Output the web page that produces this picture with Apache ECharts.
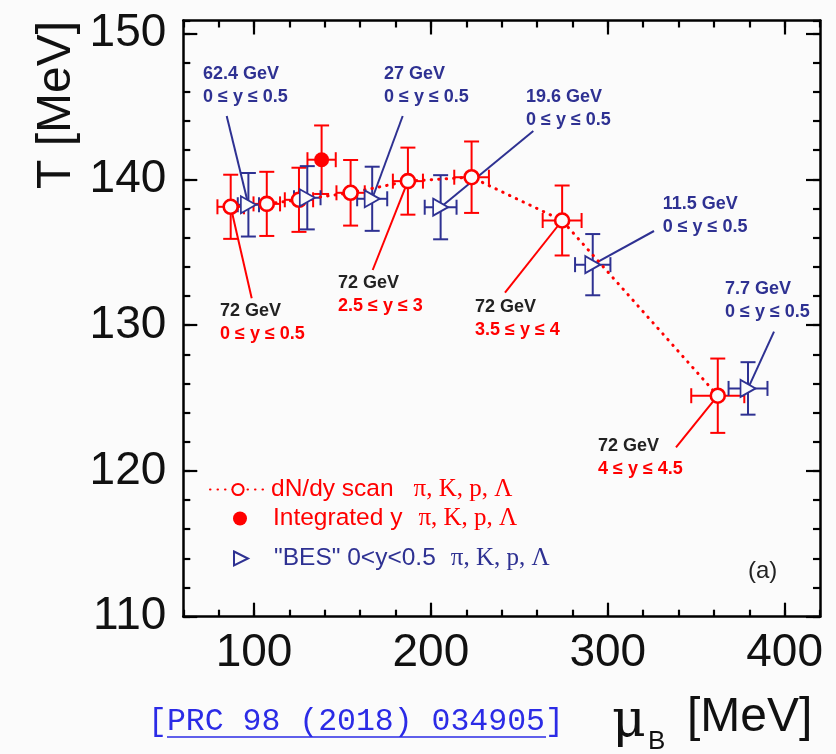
<!DOCTYPE html>
<html><head><meta charset="utf-8">
<script src="https://cdn.jsdelivr.net/npm/echarts@6/dist/echarts.min.js"></script>
<style>html,body{margin:0;padding:0;background:#fbfbfb}#c{width:836px;height:754px}</style>
</head><body><div id="c"></div>
<script>
// ---- data ----
// dN/dy rapidity scan, 72 GeV (open red circles, dotted line)
const scanMu   = [86.8, 107.2, 125.4, 154.6, 187.0, 223.0, 274.2, 362.2];
const scanT    = [138.12, 138.32, 138.6, 139.08, 139.88, 140.15, 137.18, 125.16];
const scanMuErr= [7.5, 7.5, 8.0, 8.0, 8.5, 9.8, 11.0, 15.0];
const scanTErr = [2.2, 2.2, 2.2, 2.25, 2.3, 2.45, 2.4, 2.55];
// integrated y (filled red circle)
const intMu = [138.2], intT = [141.35], intMuErr = [8.0], intTErr = [2.35];
// BES 0<y<0.5 (open blue triangles)
const besEnergy = ['62.4 GeV', '39 GeV', '27 GeV', '19.6 GeV', '11.5 GeV', '7.7 GeV'];
const besMu    = [96.8, 130.1, 166.8, 205.5, 291.5, 379.3];
const besT     = [138.26, 138.74, 138.67, 138.09, 134.15, 125.66];
const besMuErr = [6.0, 7.5, 8.5, 9.0, 10.0, 11.0];
const besTErr  = [2.18, 2.17, 2.2, 2.2, 2.1, 1.8];
// axis ticks
const xMajor = [100, 200, 300, 400];
const yMajor = [110, 120, 130, 140, 150];

const RED = '#ff0000', NAVY = '#2e3192', BG = '#fbfbfb', FONT = '"Liberation Sans", Arial, sans-serif';

function errSeries(mu, T, muE, TE, color) {
  return {
    type: 'custom', z: 2, silent: true, xAxisIndex: 0, yAxisIndex: 0,
    encode: {x: 0, y: 1},
    data: mu.map((m, i) => [m, T[i], muE[i], TE[i]]),
    renderItem(params, api) {
      const x = api.value(0), y = api.value(1), ex = api.value(2), ey = api.value(3);
      const c = api.coord([x, y]);
      const l = api.coord([x - ex, y])[0], r = api.coord([x + ex, y])[0];
      const t = api.coord([x, y + ey])[1], b = api.coord([x, y - ey])[1];
      const k = 7.5;
      const st = {stroke: color, lineWidth: 2};
      const L = (x1, y1, x2, y2) => ({type: 'line', shape: {x1, y1, x2, y2}, style: st});
      return {type: 'group', children: [
        L(l, c[1], r, c[1]), L(l, c[1] - k, l, c[1] + k), L(r, c[1] - k, r, c[1] + k),
        L(c[0], t, c[0], b), L(c[0] - k, t, c[0] + k, t), L(c[0] - k, b, c[0] + k, b)
      ]};
    }
  };
}

function xAx(pos, major, labels) {
  const base = {type: 'value', min: 60, max: 420, position: pos, splitLine: {show: false}};
  if (major) return Object.assign(base, {
    axisLine: {show: true, onZero: false, lineStyle: {color: '#000', width: 2.5}},
    axisTick: {show: true, inside: true, length: 14, lineStyle: {color: '#000', width: 2.2}, customValues: xMajor},
    axisLabel: {show: labels, customValues: xMajor, fontSize: 46, color: '#111', fontFamily: FONT, margin: 14}
  });
  return Object.assign(base, {interval: 20,
    axisLine: {show: false}, axisLabel: {show: false},
    axisTick: {show: true, inside: true, length: 7, lineStyle: {color: '#000', width: 2.2}}});
}
function yAx(pos, major, labels) {
  const base = {type: 'value', min: 110, max: 150.9, position: pos, splitLine: {show: false}};
  if (major) return Object.assign(base, {
    axisLine: {show: true, onZero: false, lineStyle: {color: '#000', width: 2.5}},
    axisTick: {show: true, inside: true, length: 14, lineStyle: {color: '#000', width: 2.2}, customValues: yMajor},
    axisLabel: {show: labels, customValues: yMajor, fontSize: 46, color: '#111', fontFamily: FONT, margin: 17}
  });
  return Object.assign(base, {interval: 2,
    axisLine: {show: false}, axisLabel: {show: false},
    axisTick: {show: true, inside: true, length: 7, lineStyle: {color: '#000', width: 2.2}}});
}

const chart = echarts.init(document.getElementById('c'));
const legText = (color, pad) => ({color, fontSize: 24.5, fontFamily: FONT,
  rich: {s: {color, fontSize: 25, fontFamily: '"Liberation Serif", serif', padding: [0, 0, 0, pad]}}});
const legBase = {orient: 'horizontal', selectedMode: false, padding: 0, itemWidth: 56, itemHeight: 14, itemGap: 0,
  formatter: n => n + '{s|π, K, p, Λ}'};

chart.setOption({
  backgroundColor: BG,
  animation: false,
  grid: {left: 183.3, top: 20.5, width: 636.7, height: 596.2, show: false},
  xAxis: [xAx('bottom', true, true), xAx('bottom', false), xAx('top', true, false), xAx('top', false)],
  yAxis: [yAx('left', true, true), yAx('left', false), yAx('right', true, false), yAx('right', false)],
  legend: [
    Object.assign({}, legBase, {data: ['dN/dy scan'], left: 209, top: 477, textStyle: legText(RED, 20)}),
    Object.assign({}, legBase, {data: ['Integrated y'], left: 233, top: 506, textStyle: legText(RED, 16)}),
    Object.assign({}, legBase, {data: ['"BES" 0<y<0.5'], left: 233, top: 546, textStyle: legText(NAVY, 15)})
  ],
  series: [
    errSeries(scanMu, scanT, scanMuErr, scanTErr, RED),
    errSeries(intMu, intT, intMuErr, intTErr, RED),
    errSeries(besMu, besT, besMuErr, besTErr, NAVY),
    {name: 'dN/dy scan', type: 'line', z: 4, xAxisIndex: 0, yAxisIndex: 0,
     data: scanMu.map((m, i) => [m, scanT[i]]),
     symbol: 'circle', symbolSize: 14, showAllSymbol: true,
     itemStyle: {color: BG, borderColor: RED, borderWidth: 2.6, opacity: 1},
     lineStyle: {color: RED, width: 3, type: [0.5, 7], cap: 'round'}},
    {name: 'Integrated y', type: 'scatter', z: 4, xAxisIndex: 0, yAxisIndex: 0,
     data: intMu.map((m, i) => [m, intT[i]]), symbol: 'circle', symbolSize: 15,
     itemStyle: {color: RED, opacity: 1}},
    {name: '"BES" 0<y<0.5', type: 'scatter', z: 5, xAxisIndex: 0, yAxisIndex: 0,
     data: besMu.map((m, i) => [m, besT[i]]), symbol: 'path://M0,0L10,5L0,10Z', symbolSize: [15, 17],
     itemStyle: {color: BG, borderColor: NAVY, borderWidth: 1.8, opacity: 1}}
  ]
});

// ---- annotations with leader lines to the data points ----
const BLK = '#222';
const notes = [
  {set: 'bes', i: 0, l1: '62.4 GeV', l2: '0 ≤ y ≤ 0.5', c1: NAVY, c2: NAVY, x: 203, y: 74.5, from: [226.7, 116], lc: NAVY},
  {set: 'bes', i: 2, l1: '27 GeV', l2: '0 ≤ y ≤ 0.5', c1: NAVY, c2: NAVY, x: 384, y: 74.5, from: [402.7, 116], lc: NAVY},
  {set: 'bes', i: 3, l1: '19.6 GeV', l2: '0 ≤ y ≤ 0.5', c1: NAVY, c2: NAVY, x: 526, y: 96.7, from: [533.3, 131], lc: NAVY},
  {set: 'bes', i: 4, l1: '11.5 GeV', l2: '0 ≤ y ≤ 0.5', c1: NAVY, c2: NAVY, x: 662.7, y: 204, from: [654, 231], lc: NAVY},
  {set: 'bes', i: 5, l1: '7.7 GeV', l2: '0 ≤ y ≤ 0.5', c1: NAVY, c2: NAVY, x: 725, y: 289.3, from: [774, 331.7], lc: NAVY},
  {set: 'scan', i: 0, l1: '72 GeV', l2: '0 ≤ y ≤ 0.5', c1: BLK, c2: RED, x: 220, y: 310.7, from: [251.7, 298.3], lc: RED},
  {set: 'scan', i: 4, l1: '72 GeV', l2: '2.5 ≤ y ≤ 3', c1: BLK, c2: RED, x: 338, y: 282.7, from: [372.7, 270], lc: RED},
  {set: 'scan', i: 6, l1: '72 GeV', l2: '3.5 ≤ y ≤ 4', c1: BLK, c2: RED, x: 475, y: 306.7, from: [505, 292.7], lc: RED},
  {set: 'scan', i: 7, l1: '72 GeV', l2: '4 ≤ y ≤ 4.5', c1: BLK, c2: RED, x: 598, y: 446, from: [676, 447.3], lc: RED}
];
const g = [];
notes.forEach(n => {
  const mu = n.set === 'bes' ? besMu[n.i] : scanMu[n.i];
  const T = n.set === 'bes' ? besT[n.i] : scanT[n.i];
  const p = chart.convertToPixel({xAxisIndex: 0, yAxisIndex: 0}, [mu, T]);
  g.push({type: 'line', z: 3, shape: {x1: n.from[0], y1: n.from[1], x2: p[0], y2: p[1]}, style: {stroke: n.lc, lineWidth: 2}});
  g.push({type: 'text', z: 6, style: {text: n.l1, x: n.x, y: n.y, fill: n.c1, font: 'bold 18px ' + FONT, verticalAlign: 'middle'}});
  g.push({type: 'text', z: 6, style: {text: n.l2, x: n.x, y: n.y + 23, fill: n.c2, font: 'bold 18px ' + FONT, verticalAlign: 'middle'}});
});
// axis titles, panel tag, citation
g.push({type: 'text', x: 57, y: 105, rotation: Math.PI / 2, style: {text: 'T [MeV]', x: 0, y: 0, align: 'center', verticalAlign: 'middle', fill: '#111', font: '48px ' + FONT}});
g.push({type: 'text', style: {text: 'μ', x: 612, y: 722, verticalAlign: 'middle', fill: '#111', font: '52px "DejaVu Serif", serif'}});
g.push({type: 'text', style: {text: 'B', x: 648, y: 742, verticalAlign: 'middle', fill: '#111', font: '26px ' + FONT}});
g.push({type: 'text', style: {text: '[MeV]', x: 687, y: 718, verticalAlign: 'middle', fill: '#111', font: '48px ' + FONT}});
g.push({type: 'text', style: {text: '(a)', x: 748, y: 571, verticalAlign: 'middle', fill: '#222', font: '24px ' + FONT}});
g.push({type: 'text', style: {text: '[PRC 98 (2018) 034905]', x: 148, y: 722, verticalAlign: 'middle', fill: '#2b2be6', font: '31.5px "Liberation Mono", monospace'}});
g.push({type: 'line', shape: {x1: 167, y1: 737, x2: 546, y2: 737}, style: {stroke: '#2b2be6', lineWidth: 1.5}});
chart.setOption({graphic: g});
</script></body></html>
